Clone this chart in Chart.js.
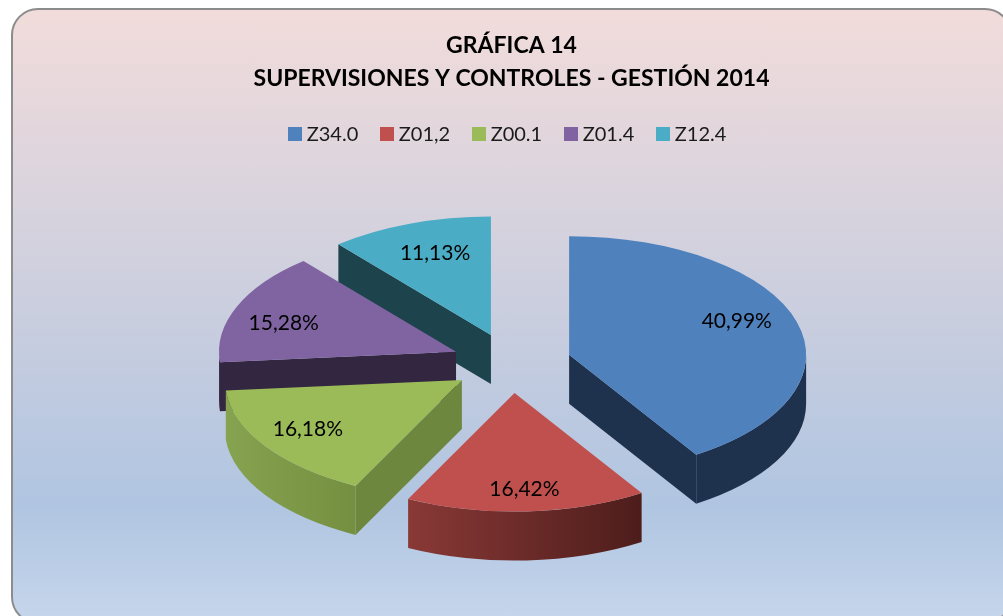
<!DOCTYPE html>
<html>
<head>
<meta charset="utf-8">
<style>
  html, body { margin: 0; padding: 0; background: #fff; overflow: hidden; }
  #wrap { position: relative; width: 1003px; height: 616px; overflow: hidden; }
  #frame {
    position: absolute; left: 11px; top: 8px; width: 1001px; height: 616px;
    box-sizing: border-box; border: 2px solid #8c8c8c; border-radius: 27px;
    background: linear-gradient(to bottom, #f2dcdb 0%, #b0c5e1 81%, #c6d6ec 100%);
  }
  canvas { position: absolute; left: 0; top: 0; }
</style>
</head>
<body>
<div id="wrap">
  <div id="frame"></div>
  <canvas id="chart" width="1003" height="616"></canvas>
</div>
<script src="https://cdn.jsdelivr.net/npm/chart.js@4/dist/chart.umd.js"></script>
<script>
const categories = ["Z34.0", "Z01,2", "Z00.1", "Z01.4", "Z12.4"];
const percentages = [40.99, 16.42, 16.18, 15.28, 11.13];
const titleLines = ["GRÁFICA 14", "SUPERVISIONES Y CONTROLES - GESTIÓN 2014"];

const topColors = ["#4f81bd", "#c0504d", "#9bbb59", "#8064a2", "#4bacc6"];
const wallColors = ["#1e314d", "#4d1d1b", "#6e873f", "#332640", "#1d444d"];
const rimLeftColors = ["#1e314d", "#893936", "#86a350", "#332640", "#1d444d"];
const rimRightColors = ["#1e314d", "#4d1d1b", "#758f40", "#332640", "#1d444d"];
const labelNudgeX = [-3, 1, -7, -8, 5];
const labelNudgeY = [-9, 7, -1, 5, 2];

const SQUASH = 0.5;
const DEPTH = 49;
const EXPLODE = 60;
const RADIUS = 237;

// arc center after the explosion, in screen coordinates
function sliceCenter(el) {
  const mid = (el.startAngle + el.endAngle) / 2;
  return {
    x: el.x + Math.cos(mid) * EXPLODE,
    y: el.y + Math.sin(mid) * EXPLODE * SQUASH,
  };
}

function drawWall(ctx, c, r, angle, color) {
  const px = c.x + Math.cos(angle) * r;
  const py = c.y + Math.sin(angle) * r * SQUASH;
  ctx.fillStyle = color;
  ctx.beginPath();
  ctx.moveTo(c.x, c.y);
  ctx.lineTo(px, py);
  ctx.lineTo(px, py + DEPTH);
  ctx.lineTo(c.x, c.y + DEPTH);
  ctx.closePath();
  ctx.fill();
}

const pie3d = {
  id: "pie3d",
  // the swatches hang out to the left of their boxes, so the legend sits a bit off center
  afterLayout(chart) {
    chart.legend.left -= 2;
    chart.legend.right -= 2;
  },
  // the slices are drawn below, moved out and flattened
  beforeDatasetDraw() {
    return false;
  },
  beforeDatasetsDraw(chart) {
    const ctx = chart.ctx;
    const arcs = chart.getDatasetMeta(0).data;
    // back slices first, the walls of the front ones go over them
    for (let i = arcs.length - 1; i >= 0; i--) {
      const el = arcs[i];
      const c = sliceCenter(el);
      const r = el.outerRadius;
      if (Math.cos(el.startAngle) < -0.001) drawWall(ctx, c, r, el.startAngle, wallColors[i]);
      if (Math.cos(el.endAngle) > 0.001) drawWall(ctx, c, r, el.endAngle, wallColors[i]);

      const from = Math.max(el.startAngle, 0);
      const to = Math.min(el.endAngle, Math.PI);
      if (to > from) {
        const x0 = c.x + Math.cos(to) * r;
        const x1 = c.x + Math.cos(from) * r;
        const grad = ctx.createLinearGradient(x0, 0, x1, 0);
        grad.addColorStop(0, rimLeftColors[i]);
        grad.addColorStop(1, rimRightColors[i]);
        ctx.fillStyle = grad;
        ctx.beginPath();
        ctx.ellipse(c.x, c.y, r, r * SQUASH, 0, from, to);
        ctx.ellipse(c.x, c.y + DEPTH, r, r * SQUASH, 0, to, from, true);
        ctx.closePath();
        ctx.fill();
      }
    }
    for (let i = arcs.length - 1; i >= 0; i--) {
      const el = arcs[i];
      const c = sliceCenter(el);
      ctx.save();
      ctx.translate(c.x, c.y);
      ctx.scale(1, SQUASH);
      ctx.translate(-el.x, -el.y);
      el.draw(ctx);
      ctx.restore();
    }
  },
  afterDatasetsDraw(chart) {
    const ctx = chart.ctx;
    ctx.save();
    ctx.fillStyle = "#000";
    ctx.font = "21px Lato";
    ctx.textAlign = "center";
    ctx.textBaseline = "middle";
    chart.getDatasetMeta(0).data.forEach((el, i) => {
      const c = sliceCenter(el);
      const mid = (el.startAngle + el.endAngle) / 2;
      const r = el.outerRadius * 0.75;
      const text = percentages[i].toFixed(2).replace(".", ",") + "%";
      ctx.fillText(text,
        c.x + Math.cos(mid) * r + labelNudgeX[i],
        c.y + Math.sin(mid) * r * SQUASH + labelNudgeY[i]);
    });
    ctx.restore();
  },
};

// legend swatch wider than its box, so the text sits closer than Chart.js would put it
function swatch(color) {
  const cv = document.createElement("canvas");
  cv.width = 14;
  cv.height = 14;
  const g = cv.getContext("2d");
  g.fillStyle = color;
  g.fillRect(0, 0, 14, 14);
  return cv;
}

new Chart(document.getElementById("chart"), {
  type: "pie",
  data: {
    labels: categories,
    datasets: [{
      data: percentages,
      backgroundColor: topColors,
      borderWidth: 0,
    }],
  },
  plugins: [pie3d],
  options: {
    responsive: false,
    animation: false,
    events: [],
    radius: RADIUS,
    layout: { padding: { left: 20, top: 29, bottom: 44 } },
    plugins: {
      title: {
        display: true,
        text: titleLines,
        color: "#000",
        font: { family: "Lato", size: 23, weight: "bold", lineHeight: 1.43 },
        padding: { top: 0, bottom: 3 },
      },
      legend: {
        position: "top",
        labels: {
          color: "#1a1a1a",
          font: { family: "Lato", size: 20 },
          usePointStyle: true,
          pointStyleWidth: 4,
          boxHeight: 14,
          padding: 26.5,
          generateLabels(chart) {
            const items = Chart.overrides.doughnut.plugins.legend.labels.generateLabels(chart);
            items.forEach((item, i) => { item.pointStyle = swatch(topColors[i]); });
            return items;
          },
        },
      },
      tooltip: { enabled: false },
    },
  },
});
</script>
</body>
</html>
